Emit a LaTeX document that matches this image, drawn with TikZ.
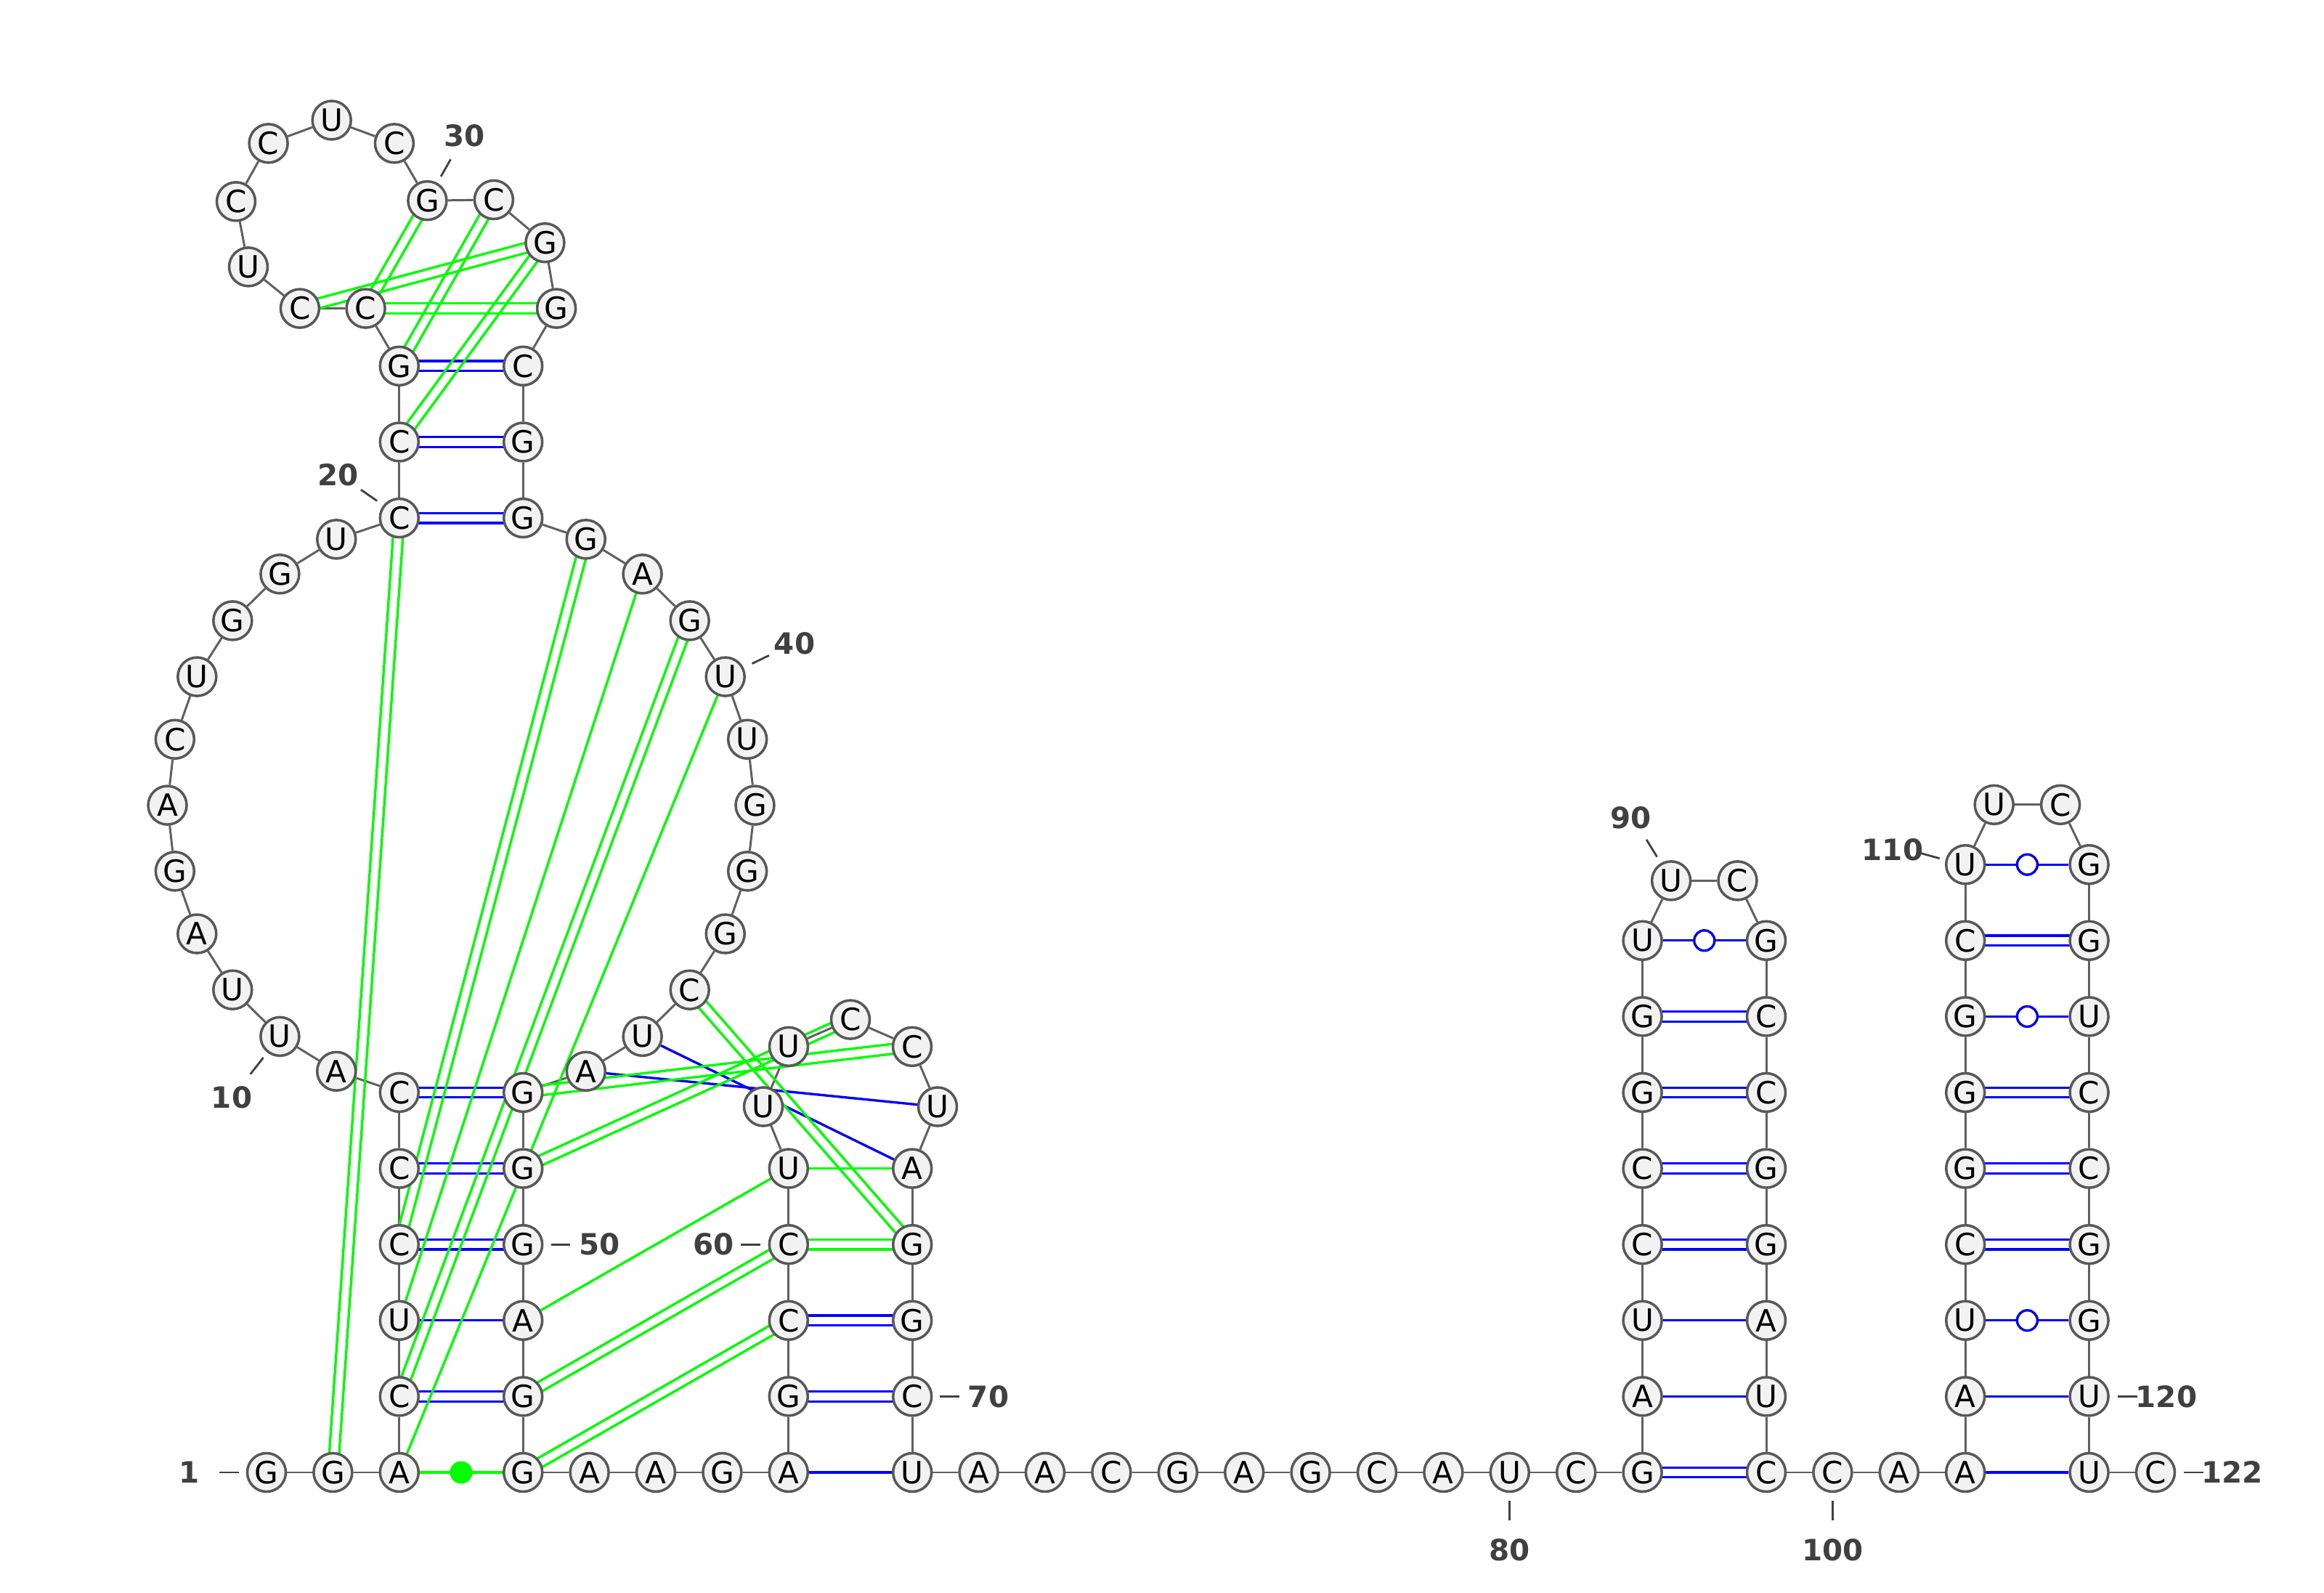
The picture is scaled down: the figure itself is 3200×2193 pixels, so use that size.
\documentclass[tikz,border=0pt]{standalone}
\usepackage{fontspec}
\setmainfont{DejaVu Sans}
\usetikzlibrary{calc, backgrounds}
\definecolor{ntfill}{RGB}{242,242,242}
\definecolor{ntline}{RGB}{88,88,88}
\definecolor{bbone}{RGB}{96,96,96}
\definecolor{numgray}{RGB}{64,64,64}
\definecolor{pkgreen}{RGB}{0,255,0}
\definecolor{bpblue}{RGB}{0,0,255}
\tikzset{
  nt/.style={
    circle, draw=ntline, fill=ntfill, line width=1pt, minimum size=5.3mm,
    inner sep=0pt, font=\fontsize{12}{12}\selectfont
  },
  backbone/.style={draw=bbone, line width=0.85pt},
  bpline/.style={draw=bpblue, line width=0.95pt},
  pkline/.style={draw=pkgreen, line width=0.95pt},
  wobble/.style={circle, draw=bpblue, fill=white, line width=0.95pt, minimum size=2.8mm, inner sep=0pt},
  ncdot/.style={circle, fill=pkgreen, minimum size=3.1mm, inner sep=0pt},
  numlabel/.style={font=\bfseries\fontsize{11.5}{11.5}\selectfont, text=numgray, inner sep=0pt},
  tick/.style={draw=numgray, line width=0.8pt}
}
\newcommand{\dblpair}[3]{%
  \draw[#1] ($(#2)!0.68mm!90:(#3)$) -- ($(#3)!0.68mm!-90:(#2)$);
  \draw[#1] ($(#2)!0.68mm!-90:(#3)$) -- ($(#3)!0.68mm!90:(#2)$);}

\begin{document}
\begin{tikzpicture}[x=0.1mm, y=-0.1mm]
    \useasboundingbox (0,0) rectangle (3200,2193);
    % bottom strand
    \foreach \n/\b/\x in {1/G/367, 2/G/458.4, 3/A/549.8, 53/G/720.2, 54/A/811.6, 55/A/903,
        56/G/994.4, 57/A/1085.8, 71/U/1256.2, 72/A/1347.6, 73/A/1439, 74/C/1530.4,
        75/G/1621.8, 76/A/1713.2, 77/G/1804.6, 78/C/1896, 79/A/1987.4, 80/U/2078.8,
        81/C/2170.2, 82/G/2261.6, 99/C/2432, 100/C/2523.4, 101/A/2614.8, 102/A/2706.2,
        121/U/2876.6, 122/C/2968}
      \node[nt] (n\n) at (\x,2027) {\b};
    % helices and loops
    \foreach \n/\b/\x/\y in {4/C/549.8/1922.4, 5/U/549.8/1817.8, 6/C/549.8/1713.2,
        7/C/549.8/1608.6, 8/C/549.8/1504, 52/G/720.2/1922.4, 51/A/720.2/1817.8,
        50/G/720.2/1713.2, 49/G/720.2/1608.6, 48/G/720.2/1504,
        20/C/549.8/713.1, 21/C/549.8/608.5, 22/G/549.8/503.9,
        36/G/720.2/713.1, 35/G/720.2/608.5, 34/C/720.2/503.9,
        23/C/503.6/424.6, 24/C/412.9/424.6, 25/U/342/367.4, 26/C/325/277.4,
        27/C/369.6/197.4, 28/U/456.7/165.5, 29/C/542.9/197.4, 30/G/588.4/276.2,
        31/C/679.9/275, 32/G/750.4/334.2, 33/G/766.1/424.6,
        58/G/1085.8/1922.4, 59/C/1085.8/1817.8, 60/C/1085.8/1713.2, 61/U/1085.8/1608.6,
        62/U/1051/1523.5, 63/U/1086/1440.8, 64/C/1171/1403.6, 65/C/1256/1440.8,
        66/U/1291/1523.5, 67/A/1256.2/1608.6, 68/G/1256.2/1713.2, 69/G/1256.2/1817.8,
        70/C/1256.2/1922.4,
        83/A/2261.6/1922.4, 84/U/2261.6/1817.8, 85/C/2261.6/1713.2, 86/C/2261.6/1608.6,
        87/G/2261.6/1504, 88/G/2261.6/1399.4, 89/U/2261.6/1294.8, 90/U/2301.1/1212.4,
        91/C/2392.5/1212.4, 92/G/2432/1294.8, 93/C/2432/1399.4, 94/C/2432/1504,
        95/G/2432/1608.6, 96/G/2432/1713.2, 97/A/2432/1817.8, 98/U/2432/1922.4,
        103/A/2706.2/1922.4, 104/U/2706.2/1817.8, 105/C/2706.2/1713.2, 106/G/2706.2/1608.6,
        107/G/2706.2/1504, 108/G/2706.2/1399.4, 109/C/2706.2/1294.8, 110/U/2706.2/1190.2,
        111/U/2745.7/1107.8, 112/C/2837.1/1107.8, 113/G/2876.6/1190.2, 114/G/2876.6/1294.8,
        115/U/2876.6/1399.4, 116/C/2876.6/1504, 117/C/2876.6/1608.6, 118/G/2876.6/1713.2,
        119/G/2876.6/1817.8, 120/U/2876.6/1922.4}
      \node[nt] (n\n) at (\x,\y) {\b};
    % big multiloop
    \foreach \n/\b in {9/A, 10/U, 11/U, 12/A, 13/G, 14/A, 15/C, 16/U, 17/G, 18/G, 19/U} {
      \pgfmathsetmacro\ang{257.84-(\n-8)*12.974}
      \node[nt] (n\n) at ({635+404.5*cos(\ang)},{1108.6-404.5*sin(\ang)}) {\b};
    }
    \foreach \n/\b in {37/G, 38/A, 39/G, 40/U, 41/U, 42/G, 43/G, 44/G, 45/C, 46/U, 47/A} {
      \pgfmathsetmacro\ang{282.16+(48-\n)*12.974}
      \node[nt] (n\n) at ({635+404.5*cos(\ang)},{1108.6-404.5*sin(\ang)}) {\b};
    }

    \begin{pgfonlayer}{background}
      \foreach \i [remember=\i as \j (initially 1)] in {2,...,122}
        \draw[backbone] (n\j) -- (n\i);
      % canonical pairs
      \foreach \p/\q in {4/52, 6/50, 7/49, 8/48, 20/36, 21/35, 22/34, 58/70, 59/69,
          82/99, 85/96, 86/95, 87/94, 88/93, 105/118, 106/117, 107/116, 109/114}
        \dblpair{bpline}{n\p}{n\q};
      \foreach \p/\q in {5/51, 57/71, 83/98, 84/97, 102/121, 103/120, 46/67, 47/66,
          89/92, 104/119, 108/115, 110/113}
        \draw[bpline] (n\p) -- (n\q);
      % tertiary pairs
      \foreach \p/\q in {2/20, 4/39, 6/37, 21/32, 22/31, 23/30, 23/33, 24/32,
          45/68, 48/65, 49/64, 52/60, 53/59, 60/68}
        \dblpair{pkline}{n\p}{n\q};
      \foreach \p/\q in {3/40, 5/38, 51/61, 61/67, 3/53}
        \draw[pkline] (n\p) -- (n\q);
    \end{pgfonlayer}

    \foreach \p/\q in {89/92, 104/119, 108/115, 110/113}
      \node[wobble] (w\p) at ($(n\p)!0.5!(n\q)$) {};
    \node[ncdot] (d3) at ($(n3)!0.5!(n53)$) {};

    % numbering
    \foreach \t/\ax/\ay/\bx/\by/\lx/\ly in {1/302/2027/329/2027/261/2027,
        10/362.6/1456/344.7/1478.8/319/1511, 20/519.2/689.6/496.9/674.2/465.6/653.5,
        30/607.1/243/620.5/219.4/639.7/187, 40/1035.6/913.6/1058.9/902.3/1094/885.5,
        50/758.7/1713.2/785.4/1713.2/825.6/1713.2, 60/1047.2/1713.2/1020.4/1713.2/982.5/1713.2,
        70/1294.4/1922.4/1321.2/1922.4/1361/1922.4, 80/2078.8/2066/2078.8/2093/2078.8/2134,
        90/2281.6/1179.6/2267/1155.8/2245.9/1125.6, 100/2523.4/2066/2523.4/2093/2523.4/2134,
        110/2670.7/1181.7/2645.2/1174.7/2606/1169.5, 120/2915.6/1922.4/2943/1922.4/2983/1922.4,
        122/3006.7/2027/3034.2/2027/3073.5/2027} {
      \coordinate (ta\t) at (\ax,\ay);
      \coordinate (tb\t) at (\bx,\by);
      \draw[tick] (ta\t) -- (tb\t);
      \node[numlabel] (lab\t) at (\lx,\ly) {\t};
    }
\end{tikzpicture}
\end{document}
